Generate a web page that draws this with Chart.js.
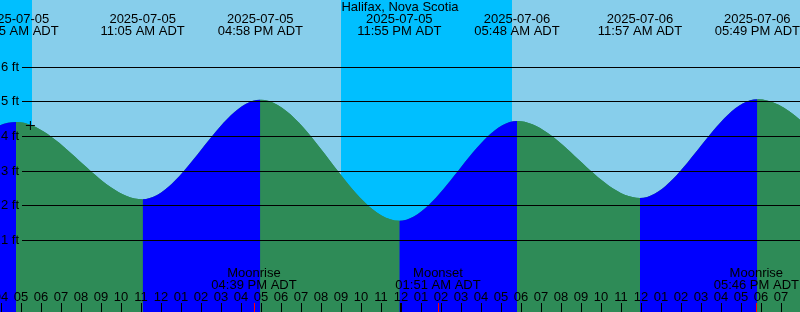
<!DOCTYPE html>
<html>
<head>
<meta charset="utf-8">
<script src="https://cdn.jsdelivr.net/npm/chart.js@4.4.1/dist/chart.umd.min.js"></script>
<style>
  html, body { margin: 0; padding: 0; background: #87ceeb; }
  #wrap { width: 800px; height: 312px; position: relative; }
</style>
</head>
<body>
<div id="wrap"><canvas id="tideChart"></canvas></div>
<script>
// --- Data (hours counted from 00:00 on 2025-07-05) ---
const stationName = 'Halifax, Nova Scotia';
const tideTimes = [-1.33, 4.75, 11.083, 16.967, 23.917, 29.8, 35.95, 41.817, 48.6];
const tideHeights = [1.6, 4.40, 2.17, 5.04, 1.55, 4.43, 2.21, 5.06, 1.5];
const extremeDates = ['', '2025-07-05', '2025-07-05', '2025-07-05', '2025-07-05', '2025-07-06', '2025-07-06', '2025-07-06', ''];
const extremeTimes = ['', '04:45 AM ADT', '11:05 AM ADT', '04:58 PM ADT', '11:55 PM ADT', '05:48 AM ADT', '11:57 AM ADT', '05:49 PM ADT', ''];

const moonTimes = [16.65, 25.85, 41.767];
const moonEvents = ['Moonrise', 'Moonset', 'Moonrise'];
const moonLabels = ['04:39 PM ADT', '01:51 AM ADT', '05:46 PM ADT'];

const nightStart = [-5, 21.0];
const nightEnd = [5.55, 29.55];

const feetTicks = [1, 2, 3, 4, 5, 6];
const nowMark = [{ x: 5.47, y: 4.30 }];

// --- Colours ---
const DAY = '#87ceeb', NIGHT = '#00bfff', RISING = '#0000ff', FALLING = '#2e8b57';
const FONT = '13px "Liberation Sans", Arial, sans-serif';

const tidePoints = tideTimes.map((t, i) => ({ x: t, y: tideHeights[i] }));

const tideDecor = {
    id: 'tideDecor',
    beforeDraw(chart) {
        const ctx = chart.ctx, x = chart.scales.x, a = chart.chartArea;
        ctx.save();
        ctx.fillStyle = DAY;
        ctx.fillRect(a.left, a.top, a.right - a.left, a.bottom - a.top);
        ctx.fillStyle = NIGHT;
        nightStart.forEach((s, i) => {
            const x0 = Math.max(a.left, x.getPixelForValue(s));
            const x1 = Math.min(a.right, x.getPixelForValue(nightEnd[i]));
            if (x1 > x0) ctx.fillRect(Math.round(x0), a.top, Math.round(x1) - Math.round(x0), a.bottom - a.top);
        });
        ctx.restore();
    },
    afterDatasetsDraw(chart) {
        const ctx = chart.ctx, x = chart.scales.x, y = chart.scales.y, a = chart.chartArea;
        ctx.save();
        ctx.font = FONT;
        ctx.fillStyle = '#000';
        ctx.strokeStyle = '#000';
        ctx.lineWidth = 1;

        // feet grid
        feetTicks.forEach(f => {
            const py = Math.round(y.getPixelForValue(f)) + 0.5;
            ctx.beginPath();
            ctx.moveTo(22, py);
            ctx.lineTo(a.right, py);
            ctx.stroke();
            ctx.textAlign = 'left';
            ctx.textBaseline = 'middle';
            ctx.fillText(f + ' ft', 1, py);
        });

        // title + extreme labels
        ctx.textAlign = 'center';
        ctx.textBaseline = 'middle';
        ctx.fillText(stationName, 400, 7);
        tideTimes.forEach((t, i) => {
            if (!extremeDates[i]) return;
            const px = x.getPixelForValue(t);
            ctx.fillText(extremeDates[i], px, 19.5);
            ctx.fillText(extremeTimes[i], px, 31.5);
        });

        // moon events
        moonTimes.forEach((t, i) => {
            const px = x.getPixelForValue(t);
            ctx.fillStyle = '#000';
            ctx.fillText(moonEvents[i], px, 273.5);
            ctx.fillText(moonLabels[i], px, 285);
            ctx.strokeStyle = '#ff0000';
            ctx.beginPath();
            ctx.moveTo(Math.round(px) + 0.5, 303);
            ctx.lineTo(Math.round(px) + 0.5, a.bottom);
            ctx.stroke();
        });

        // hour ticks
        ctx.strokeStyle = '#000';
        ctx.fillStyle = '#000';
        for (let h = Math.ceil(x.min); h <= x.max; h++) {
            const px = Math.round(x.getPixelForValue(h));
            const hr = ((h % 12) + 12) % 12 || 12;
            ctx.fillText(String(hr).padStart(2, '0'), px, 297.5);
            const mid = ((h % 24) + 24) % 24 === 0;
            ctx.lineWidth = mid ? 2 : 1;
            ctx.beginPath();
            ctx.moveTo(mid ? px : px + 0.5, 303);
            ctx.lineTo(mid ? px : px + 0.5, a.bottom);
            ctx.stroke();
        }
        ctx.restore();
    }
};

new Chart(document.getElementById('tideChart'), {
    type: 'line',
    data: {
        datasets: [{
            // "now" marker, drawn on top
            type: 'scatter',
            data: nowMark,
            order: 0,
            pointStyle: 'cross',
            pointRadius: 4.5,
            pointBorderColor: '#000',
            pointBorderWidth: 1,
            borderColor: '#000'
        }, {
            // rising / falling tide fill
            data: tidePoints,
            order: 1,
            cubicInterpolationMode: 'monotone',
            borderColor: 'rgba(0,0,0,0)',
            borderWidth: 1,
            pointRadius: 0,
            fill: 'start',
            backgroundColor: FALLING,
            segment: {
                backgroundColor: c => c.p1.parsed.y > c.p0.parsed.y ? RISING : FALLING
            }
        }, {
            // solid underlay so the segment seams do not show the sky
            data: tidePoints,
            order: 2,
            cubicInterpolationMode: 'monotone',
            borderColor: 'rgba(0,0,0,0)',
            borderWidth: 1,
            pointRadius: 0,
            fill: 'start',
            backgroundColor: FALLING
        }]
    },
    options: {
        responsive: true,
        maintainAspectRatio: false,
        animation: false,
        layout: { padding: 0, autoPadding: false },
        plugins: { legend: { display: false }, tooltip: { enabled: false } },
        scales: {
            x: { type: 'linear', min: 3.95, max: 43.95, display: false },
            y: { min: -1.08, max: 7.92, display: false }
        }
    },
    plugins: [tideDecor]
});
</script>
</body>
</html>
